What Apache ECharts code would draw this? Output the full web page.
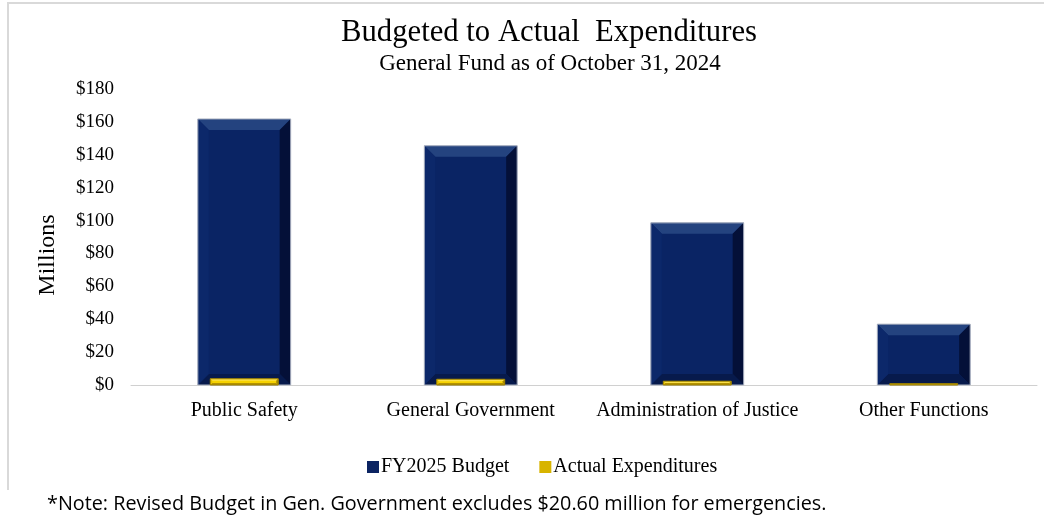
<!DOCTYPE html>
<html>
<head>
<meta charset="utf-8">
<script src="https://cdn.jsdelivr.net/npm/echarts@6/dist/echarts.min.js"></script>
<style>
  html, body { margin: 0; padding: 0; background: #ffffff; }
  #chart { width: 1044px; height: 521px; }
</style>
</head>
<body>
<div id="chart"></div>
<script>
// General Fund, millions of dollars
const categories = ['Public Safety', 'General Government', 'Administration of Justice', 'Other Functions'];
const budget = [161.8, 145.5, 98.6, 37.0];
const actual = [3.8, 3.5, 2.3, 0.8];
const yTicks = ['$0', '$20', '$40', '$60', '$80', '$100', '$120', '$140', '$160', '$180'];

const SERIF = '"Liberation Serif", "Times New Roman", serif';

// Bevelled column drawn through the axis scales
function bevelBar(widthRatio, bevel, colors) {
  return function (params, api) {
    const cat = api.value(0);
    const val = api.value(1);
    const top = api.coord([cat, val]);
    const base = api.coord([cat, 0]);
    const bw = api.size([1, 0])[0] * widthRatio;
    const x0 = top[0] - bw / 2, x1 = top[0] + bw / 2;
    const y0 = top[1], y1 = base[1];
    const b = Math.min(bevel, (y1 - y0) / 2, bw / 2);
    const poly = (pts, fill) => ({ type: 'polygon', shape: { points: pts }, style: { fill: fill } });
    return {
      type: 'group',
      children: [
        { type: 'rect', shape: { x: x0, y: y0, width: bw, height: y1 - y0 }, style: { fill: colors.face } },
        poly([[x0, y0], [x1, y0], [x1 - b, y0 + b], [x0 + b, y0 + b]], colors.top),
        poly([[x1, y0], [x1, y1], [x1 - b, y1 - b], [x1 - b, y0 + b]], colors.right),
        poly([[x0, y1], [x1, y1], [x1 - b, y1 - b], [x0 + b, y1 - b]], colors.bottom),
        poly([[x0, y0], [x0 + b, y0 + b], [x0 + b, y1 - b], [x0, y1]], colors.left),
        { type: 'rect', shape: { x: x0, y: y0, width: bw, height: y1 - y0 },
          style: { fill: 'none', stroke: colors.edge, lineWidth: 1 } }
      ]
    };
  };
}

const chart = echarts.init(document.getElementById('chart'), null, { renderer: 'canvas' });

chart.setOption({
  backgroundColor: '#ffffff',
  animation: false,
  legend: {
    top: 452,
    left: 362,
    itemWidth: 12, itemHeight: 12, itemGap: 30,
    icon: 'rect',
    textStyle: { fontFamily: SERIF, fontSize: 20, color: '#000', padding: [0, 0, 0, -3] },
    data: ['FY2025 Budget', 'Actual Expenditures']
  },
  grid: { left: 131, right: 7, top: 89, bottom: 136 },
  xAxis: {
    type: 'category',
    data: categories,
    axisLine: { lineStyle: { color: '#d0d0d0', width: 1 } },
    axisTick: { show: false },
    axisLabel: { fontFamily: SERIF, fontSize: 20, color: '#000', margin: 16, interval: 0 }
  },
  yAxis: {
    type: 'value',
    min: 0, max: 180, interval: 20,
    splitLine: { show: false },
    axisLine: { show: false },
    axisTick: { show: false },
    axisLabel: { fontFamily: SERIF, fontSize: 19, color: '#000', margin: 17,
      formatter: (v) => yTicks[Math.round(v / 20)] }
  },
  series: [
    {
      name: 'FY2025 Budget',
      type: 'custom',
      itemStyle: { color: '#0b2462' },
      data: budget.map((v, i) => [i, v]),
      encode: { x: 0, y: 1 },
      z: 2,
      renderItem: bevelBar(0.41, 11, {
        face: '#0a2464', top: '#24437f', right: '#041038',
        bottom: '#071a4c', left: '#0c286a', edge: '#b0b6c4'
      })
    },
    {
      name: 'Actual Expenditures',
      type: 'custom',
      itemStyle: { color: '#d8b400' },
      data: actual.map((v, i) => [i, v]),
      encode: { x: 0, y: 1 },
      z: 3,
      renderItem: bevelBar(0.30, 2, {
        face: '#f6d200', top: '#fbe04a', right: '#a88a00',
        bottom: '#b39200', left: '#e6c300', edge: '#9a7e00'
      })
    }
  ],
  graphic: [
    { type: 'polyline', silent: true,
      shape: { points: [[8, 490], [8, 3], [1044, 3]] },
      style: { stroke: '#d9d9d9', lineWidth: 2, fill: 'none' } },
    { type: 'text', silent: true, x: 549, y: 33,
      style: { text: 'Budgeted to Actual  Expenditures', fontFamily: SERIF, fontSize: 30.7, fill: '#000',
        align: 'center', verticalAlign: 'middle' } },
    { type: 'text', silent: true, x: 550, y: 64,
      style: { text: 'General Fund as of October 31, 2024', fontFamily: SERIF, fontSize: 23, fill: '#000',
        align: 'center', verticalAlign: 'middle' } },
    { type: 'text', silent: true, x: 48, y: 255, rotation: Math.PI / 2,
      style: { text: 'Millions', fontFamily: SERIF, fontSize: 24, fill: '#000',
        align: 'center', verticalAlign: 'middle' } },
    { type: 'text', left: 47, top: 494, silent: true,
      style: { text: '*Note: Revised Budget in Gen. Government excludes $20.60 million for emergencies.',
        fontFamily: '"Open Sans", "Noto Sans", sans-serif', fontSize: 19.8, fill: '#000' } }
  ]
});
</script>
</body>
</html>
